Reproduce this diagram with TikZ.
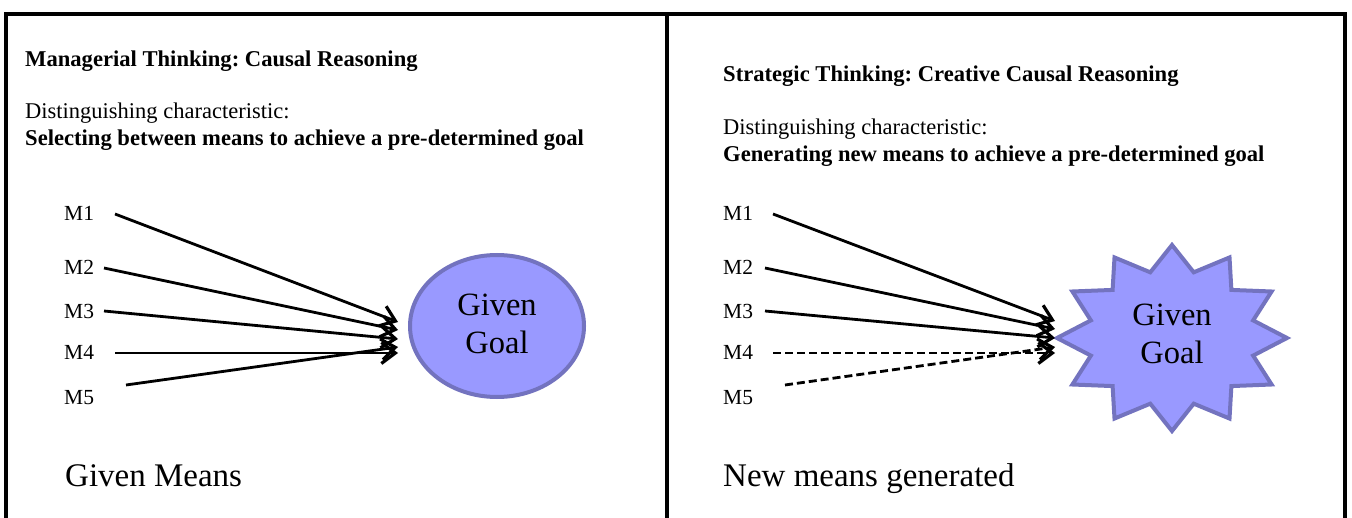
\documentclass[tikz,border=0pt]{standalone}
\usepackage{fontspec}
\setmainfont{Liberation Serif}
\usetikzlibrary{arrows.meta,shapes.geometric}
\definecolor{goalfill}{HTML}{9999FF}
\definecolor{goaldraw}{HTML}{7373BF}
\frenchspacing
\begin{document}
\begin{tikzpicture}[x=1pt,y=-1pt,
  frame/.style={line width=4pt, line join=miter},
  lbl/.style={anchor=base west, inner sep=0pt, font=\fontsize{21.5}{25}\selectfont},
  dst/.style={anchor=base west, inner sep=0pt, font=\fontsize{22.5}{25}\selectfont},
  ttl/.style={anchor=base west, inner sep=0pt, font=\fontsize{22.6}{25}\selectfont\bfseries},
  big/.style={anchor=base west, inner sep=0pt, font=\fontsize{33}{38}\selectfont},
  goaltext/.style={align=center, inner sep=0pt, font=\fontsize{32.5}{37.5}\selectfont},
  means/.style={line width=2.8pt, -{Straight Barb[length=14pt,width=21pt,line width=3.2pt]}},
  newmeans/.style={means, dash pattern=on 8pt off 4pt},
  goal/.style={fill=goalfill, draw=goaldraw, line width=4pt, line join=miter},
  ]
\useasboundingbox (0,0) rectangle (1352,518);
% frame
\draw[frame] (6,518) -- (6,14) -- (1345,14) -- (1345,518);
\draw[frame] (667,14) -- (667,518);

% ---------- left panel ----------
\node[ttl] (t1) at (25,67) {Managerial Thinking: Causal Reasoning};
\node[dst] (d1) at (25,119) {Distinguishing characteristic:};
\node[ttl] (s1) at (25,146) {Selecting between means to achieve a pre-determined goal};
\node[lbl] (lm1) at (64,221) {M1};
\node[lbl] (lm2) at (64,275) {M2};
\node[lbl] (lm3) at (64,319) {M3};
\node[lbl] (lm4) at (64,360) {M4};
\node[lbl] (lm5) at (64,404) {M5};
\node[big] (gm) at (65,486) {Given Means};

\node[ellipse, goal, minimum width=174pt, minimum height=142pt, inner sep=0pt] (g1) at (497,326) {};
\node[goaltext] (g1t) at (497,324) {Given\\Goal};

\coordinate (ls1) at (115,214); \coordinate (lt1) at (398,322);
\coordinate (ls2) at (104,268); \coordinate (lt2) at (398,330);
\coordinate (ls3) at (104,311); \coordinate (lt3) at (398,339);
\coordinate (ls4) at (115,353); \coordinate (lt4) at (398,353);
\coordinate (ls5) at (126,385); \coordinate (lt5) at (398,347);
\foreach \i in {1,...,5} \draw[means] (ls\i) -- (lt\i);

% ---------- right panel ----------
\node[ttl] (t2) at (723,82) {Strategic Thinking: Creative Causal Reasoning};
\node[dst] (d2) at (723,135) {Distinguishing characteristic:};
\node[ttl] (s2) at (723,162) {Generating new means to achieve a pre-determined goal};
\node[lbl] (rm1) at (723,221) {M1};
\node[lbl] (rm2) at (723,275) {M2};
\node[lbl] (rm3) at (723,319) {M3};
\node[lbl] (rm4) at (723,360) {M4};
\node[lbl] (rm5) at (723,404) {M5};
\node[big] (ng) at (723,486) {New means generated};

\begin{scope}[shift={(1172,338)}]
\path[goal] (0:115 and 93)
  \foreach \a in {0,30,...,330} { -- ({\a+15}:84 and 68) -- ({\a+30}:115 and 93) } -- cycle;
\end{scope}
\node[goaltext] (g2t) at (1172,334) {Given\\Goal};

\coordinate (rs1) at (773,214); \coordinate (rt1) at (1055,321);
\coordinate (rs2) at (765,268); \coordinate (rt2) at (1055,329);
\coordinate (rs3) at (765,311); \coordinate (rt3) at (1055,338);
\coordinate (rs4) at (773,353); \coordinate (rt4) at (1055,353);
\coordinate (rs5) at (785,385); \coordinate (rt5) at (1055,347);
\foreach \i in {1,2,3} \draw[means] (rs\i) -- (rt\i);
\foreach \i in {4,5} \draw[newmeans] (rs\i) -- (rt\i);
\end{tikzpicture}
\end{document}
